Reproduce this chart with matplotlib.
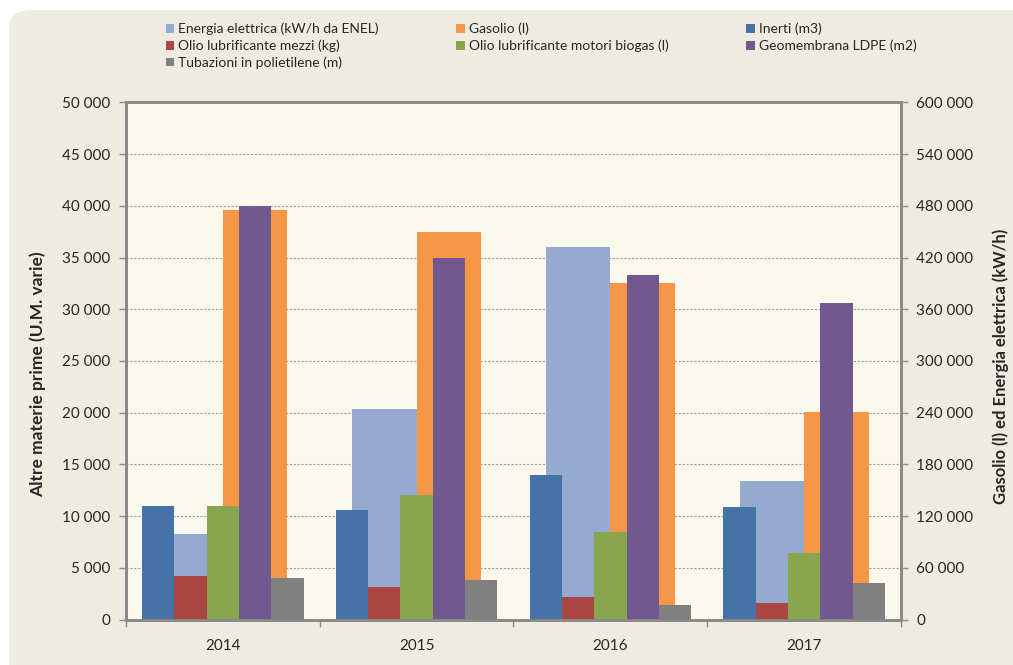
import numpy as np
import matplotlib.pyplot as plt
from matplotlib.patches import FancyBboxPatch, Patch
from matplotlib.ticker import FuncFormatter, FixedLocator

plt.rcParams['font.family'] = ['Lato', 'DejaVu Sans']

# data
years = ['2014', '2015', '2016', '2017']

# left axis (altre materie prime)
inerti = [11000, 10550, 14000, 10850]
olio_mezzi = [4200, 3100, 2200, 1600]
olio_biogas = [11000, 12050, 8450, 6400]
geomembrana = [40000, 35000, 33350, 30600]
tubazioni = [4050, 3800, 1450, 3550]

# right axis (gasolio ed energia elettrica)
energia = [99000, 244500, 432000, 161000]
gasolio = [475500, 449500, 391000, 240500]

left_names = ['Inerti (m3)', 'Olio lubrificante mezzi (kg)',
              'Olio lubrificante motori biogas (l)', 'Geomembrana LDPE (m2)',
              'Tubazioni in polietilene (m)']
left_colors = ['#4572A7', '#AA4643', '#89A54E', '#71588F', '#808080']
right_names = ['Energia elettrica (kW/h da ENEL)', 'Gasolio (l)']
right_colors = ['#95AACF', '#F79646']

bg = '#EEECE1'
plot_bg = '#FBF9EE'
spine_col = '#8A8A8A'
txt = '#262626'


def fmt(v, pos):
    # thousands with a space, as in the original
    return '{:,}'.format(int(v)).replace(',', ' ')


fig = plt.figure(figsize=(10.13, 6.65), dpi=100)
fig.patch.set_facecolor('white')
fig.patches.append(FancyBboxPatch((0.009, -0.05), 1.05, 1.035,
                                  boxstyle='round,pad=0,rounding_size=0.025',
                                  transform=fig.transFigure, facecolor=bg,
                                  edgecolor='none', zorder=-10))

ax = fig.add_axes([0.1244, 0.0684, 0.7650, 0.7775])
ax2 = ax.twinx()
ax.set_zorder(ax2.get_zorder() + 1)
ax.patch.set_visible(False)
ax2.patch.set_visible(True)
ax2.patch.set_facecolor(plot_bg)

x = np.arange(len(years))

# wide bars behind, on the right axis
wr = 1 / 3
for i, (vals, c) in enumerate(zip([energia, gasolio], right_colors)):
    ax2.bar(x + (i - 0.5) * wr, vals, width=wr, color=c, edgecolor='none', zorder=2)

# narrow bars in front, on the left axis
wl = 1 / 6
for i, (vals, c) in enumerate(zip([inerti, olio_mezzi, olio_biogas, geomembrana, tubazioni], left_colors)):
    ax.bar(x + (i - 2) * wl, vals, width=wl, color=c, edgecolor='none', zorder=2)

ax.set_xlim(-0.5, 3.5)
ax.set_ylim(0, 50000)
ax2.set_ylim(0, 600000)
ax.set_yticks(np.arange(0, 50001, 5000))
ax2.set_yticks(np.arange(0, 600001, 60000))
ax.yaxis.set_major_formatter(FuncFormatter(fmt))
ax2.yaxis.set_major_formatter(FuncFormatter(fmt))

ax2.grid(axis='y', color='#9A9A9A', linestyle=(0, (2, 1.5)), linewidth=0.8, zorder=0)
ax2.set_axisbelow(True)

ax.set_xticks(x)
ax.set_xticklabels(years)
ax.xaxis.set_minor_locator(FixedLocator([-0.5, 0.5, 1.5, 2.5, 3.5]))
ax.tick_params(axis='x', which='major', length=0, pad=14, labelsize=11, labelcolor=txt)
ax.tick_params(axis='x', which='minor', length=5, width=1, color=spine_col)
ax.tick_params(axis='y', length=5, width=1, color=spine_col, labelsize=11, labelcolor=txt, pad=6)
ax2.tick_params(axis='y', length=5, width=1, color=spine_col, labelsize=11, labelcolor=txt, pad=6)
ax2.tick_params(axis='x', length=0)

for a in (ax, ax2):
    for s in a.spines.values():
        s.set_color(spine_col)
        s.set_linewidth(2)

ax.set_ylabel('Altre materie prime (U.M. varie)', fontsize=12.5, fontweight='bold', color=txt)
ax.yaxis.set_label_coords(-0.103, 0.474)
ax2.set_ylabel('Gasolio (l) ed Energia elettrica (kW/h)', fontsize=12, fontweight='bold', color=txt)
ax2.yaxis.set_label_coords(1.118, 0.49)

# legend, reordered so that it reads row by row like the original
handles = {n: Patch(facecolor=c) for n, c in zip(left_names + right_names, left_colors + right_colors)}
order = ['Energia elettrica (kW/h da ENEL)', 'Olio lubrificante mezzi (kg)', 'Tubazioni in polietilene (m)',
         'Gasolio (l)', 'Olio lubrificante motori biogas (l)',
         'Inerti (m3)', 'Geomembrana LDPE (m2)']
leg = fig.legend([handles[n] for n in order], order, ncol=3, loc='upper left',
                 bbox_to_anchor=(0.158, 0.974), frameon=False, fontsize=10,
                 handlelength=0.6, handleheight=0.6, handletextpad=0.3,
                 columnspacing=5.6, labelspacing=0.3, borderaxespad=0)
for t in leg.get_texts():
    t.set_color(txt)

fig.savefig('out.png', dpi=100, facecolor=fig.get_facecolor())
